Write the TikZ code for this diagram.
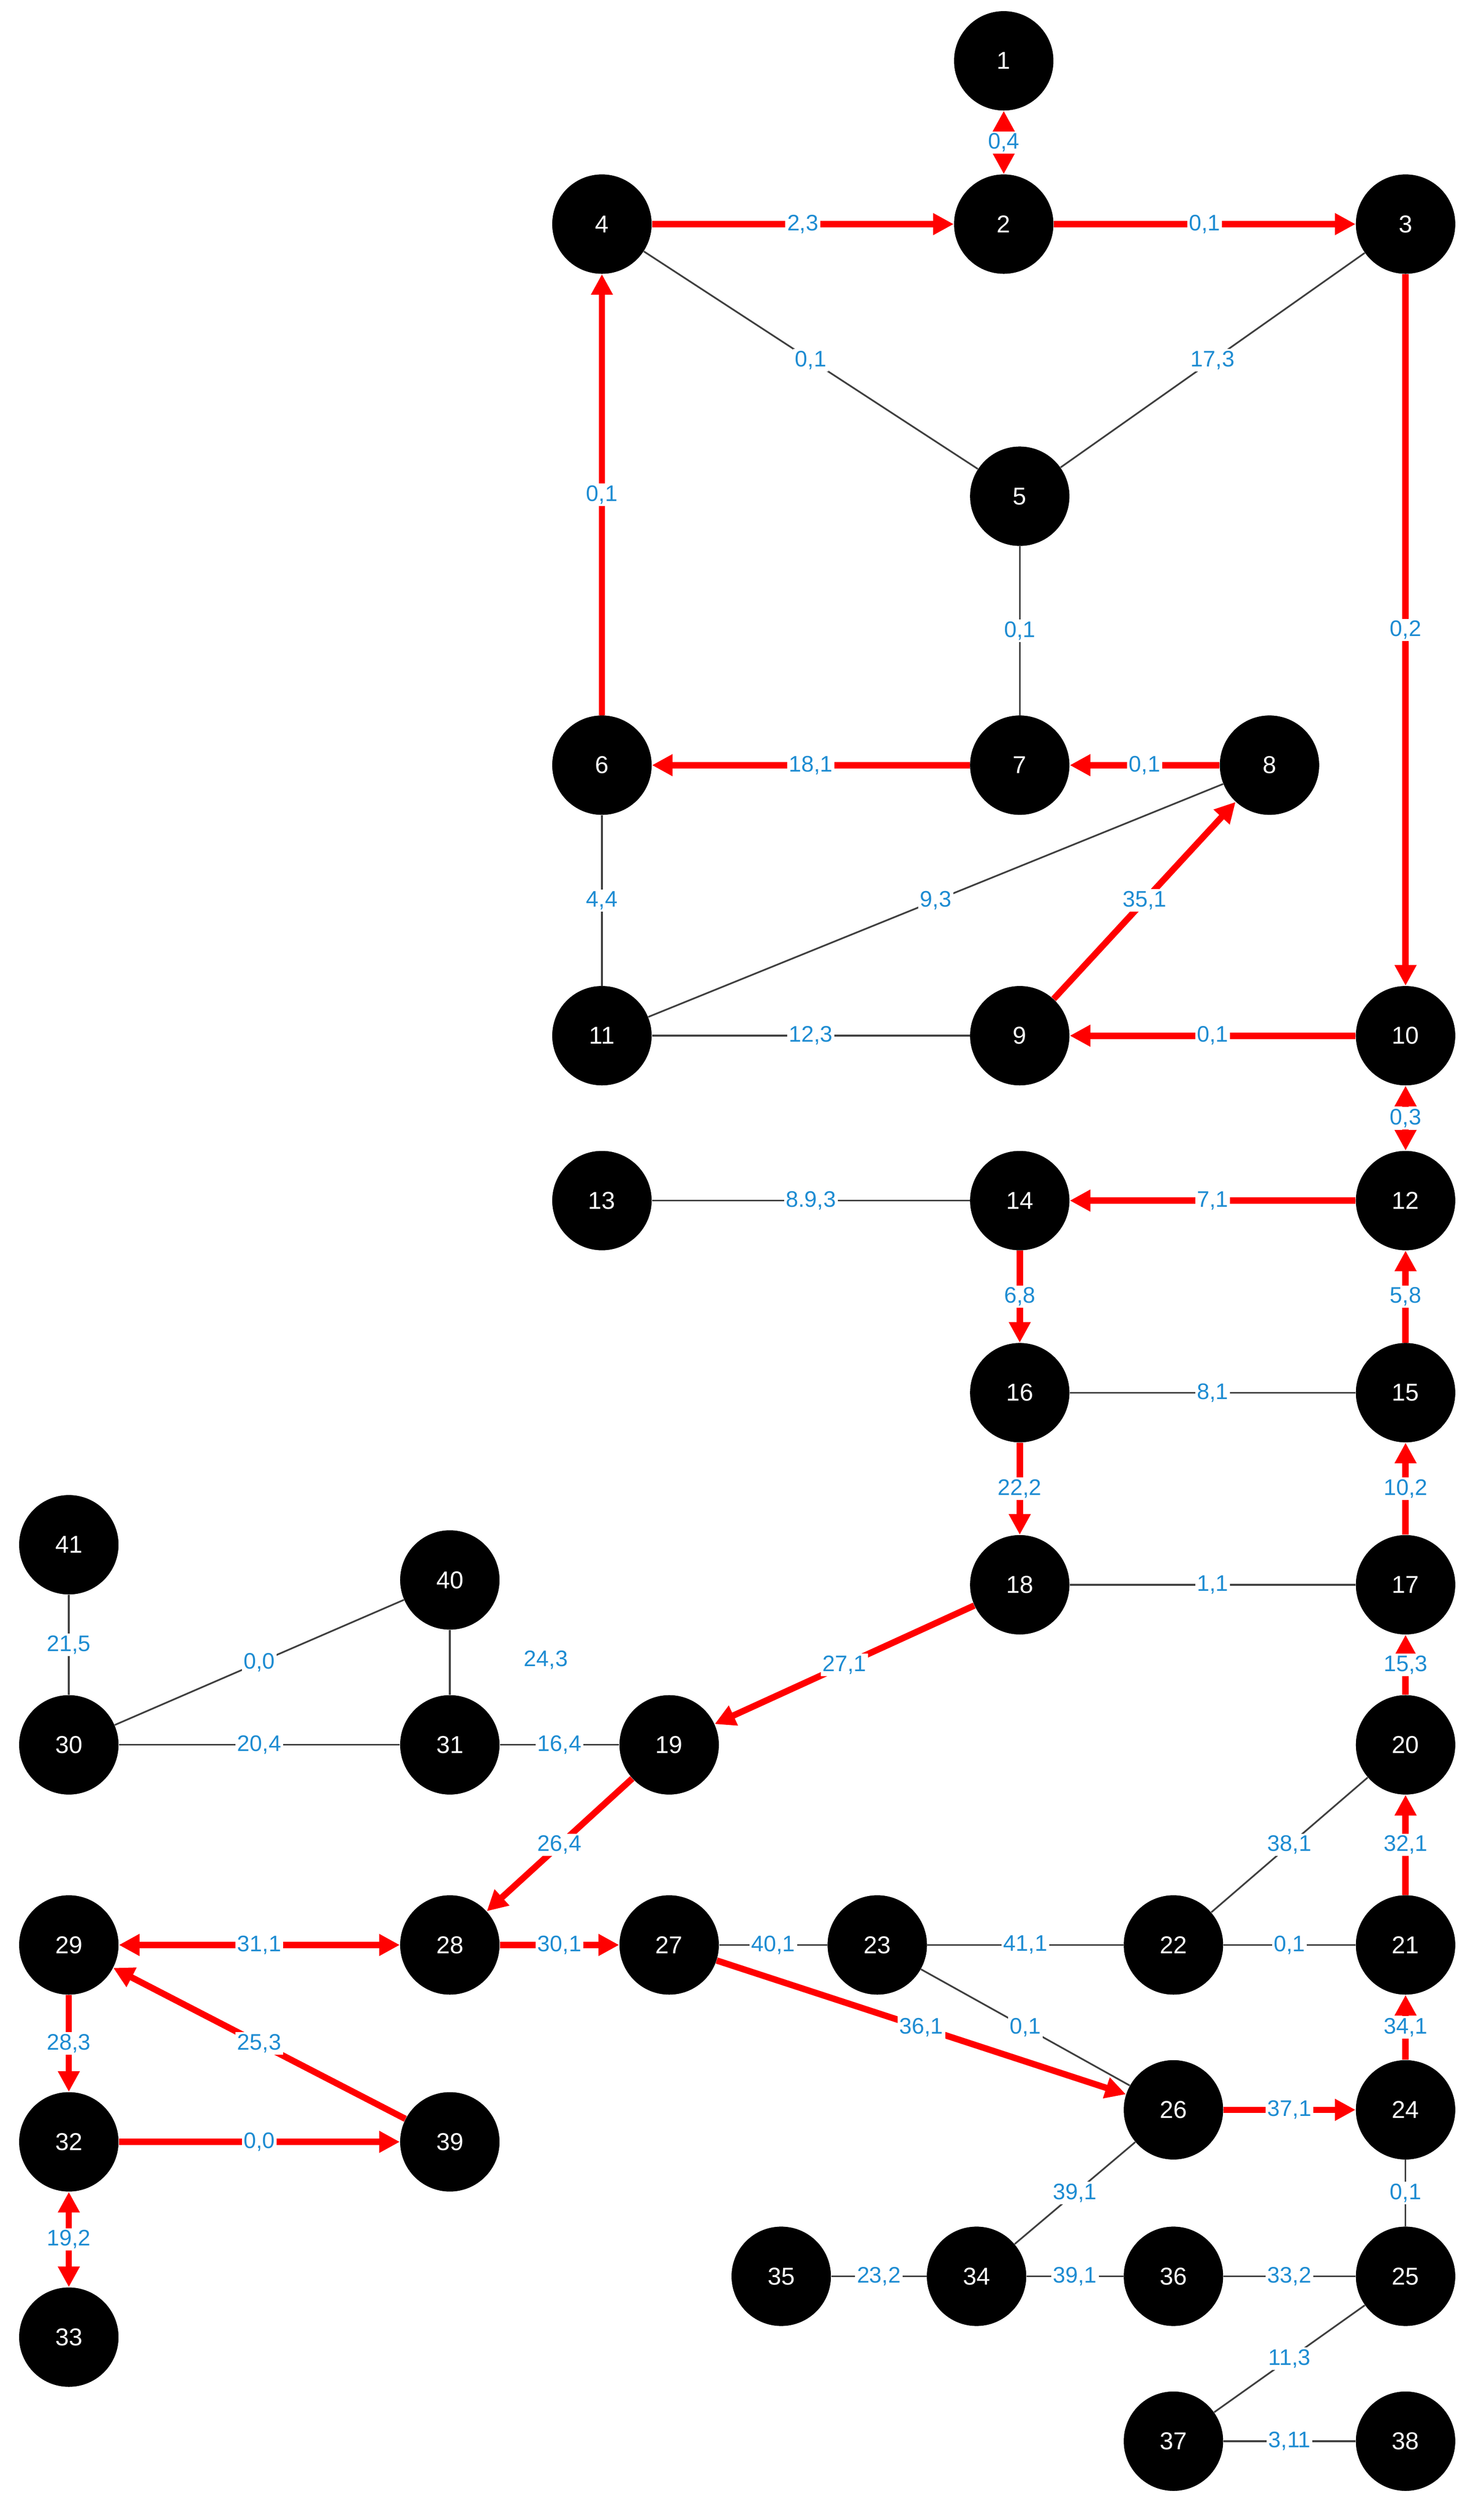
\documentclass[tikz,border=0pt]{standalone}
\usepackage{fontspec}
\setmainfont{Liberation Sans}
\usetikzlibrary{arrows.meta}
\definecolor{lbl}{RGB}{30,140,210}
\begin{document}
\begin{tikzpicture}[x=0.03cm,y=-0.03cm,
  n/.style={circle,fill=black,minimum size=1.86cm,inner sep=0pt,text=white,font=\fontsize{13}{15}\selectfont},
  r/.style={draw=red,line width=3.4pt,-{Triangle[length=11pt,width=11pt]}},
  rb/.style={draw=red,line width=3.4pt,{Triangle[length=11pt,width=11pt]}-{Triangle[length=11pt,width=11pt]}},
  k/.style={draw=black!75,line width=0.9pt},
  l/.style={fill=white,inner sep=1pt,text=lbl,font=\fontsize{12}{14}\selectfont}]
\useasboundingbox (0,0) rectangle (927,1568);
\foreach \i/\x/\y in {1/627/38,2/627/140,3/878/140,4/376/140,5/637/310,6/376/478,7/637/478,8/793/478,9/637/647,10/878/647,11/376/647,12/878/750,13/376/750,14/637/750,15/878/870,16/637/870,17/878/990,18/637/990,19/418/1090,20/878/1090,21/878/1215,22/733/1215,23/548/1215,24/878/1318,25/878/1422,26/733/1318,27/418/1215,28/281/1215,29/43/1215,30/43/1090,31/281/1090,32/43/1338,33/43/1460,34/610/1422,35/488/1422,36/733/1422,37/733/1525,38/878/1525,39/281/1338,40/281/987,41/43/965}
  \node[n] (\i) at (\x,\y) {\i};
\begin{scope}[on background layer/.style={}]
\foreach \a/\b/\t in {4/5/{0,1},3/5/{17,3},5/7/{0,1},6/11/{4,4},11/8/{9,3},11/9/{12,3},13/14/{8.9,3},16/15/{8,1},18/17/{1,1},41/30/{21,5},30/40/{0,0},30/31/{20,4},31/19/{16,4},27/23/{40,1},23/22/{41,1},22/21/{0,1},22/20/{38,1},23/26/{0,1},26/34/{39,1},35/34/{23,2},34/36/{39,1},36/25/{33,2},24/25/{0,1},25/37/{11,3},37/38/{3,11}}
  \draw[k] (\a) -- node[l]{\t} (\b);
\draw[k] (40) -- (31);
\foreach \a/\b/\t in {4/2/{2,3},2/3/{0,1},3/10/{0,2},6/4/{0,1},7/6/{18,1},8/7/{0,1},9/8/{35,1},10/9/{0,1},12/14/{7,1},14/16/{6,8},15/12/{5,8},16/18/{22,2},17/15/{10,2},20/17/{15,3},18/19/{27,1},19/28/{26,4},21/20/{32,1},24/21/{34,1},26/24/{37,1},27/26/{36,1},28/27/{30,1},39/29/{25,3},29/32/{28,3},32/39/{0,0}}
  \draw[r] (\a) -- node[l]{\t} (\b);
\foreach \a/\b/\t in {1/2/{0,4},10/12/{0,3},29/28/{31,1},32/33/{19,2}}
  \draw[rb] (\a) -- node[l]{\t} (\b);
\end{scope}
\node[l] (free) at (341,1037) {24,3};
\foreach \i/\x/\y in {1/627/38,2/627/140,3/878/140,4/376/140,5/637/310,6/376/478,7/637/478,8/793/478,9/637/647,10/878/647,11/376/647,12/878/750,13/376/750,14/637/750,15/878/870,16/637/870,17/878/990,18/637/990,19/418/1090,20/878/1090,21/878/1215,22/733/1215,23/548/1215,24/878/1318,25/878/1422,26/733/1318,27/418/1215,28/281/1215,29/43/1215,30/43/1090,31/281/1090,32/43/1338,33/43/1460,34/610/1422,35/488/1422,36/733/1422,37/733/1525,38/878/1525,39/281/1338,40/281/987,41/43/965}
  \node[n] at (\x,\y) {\i};
\end{tikzpicture}
\end{document}
